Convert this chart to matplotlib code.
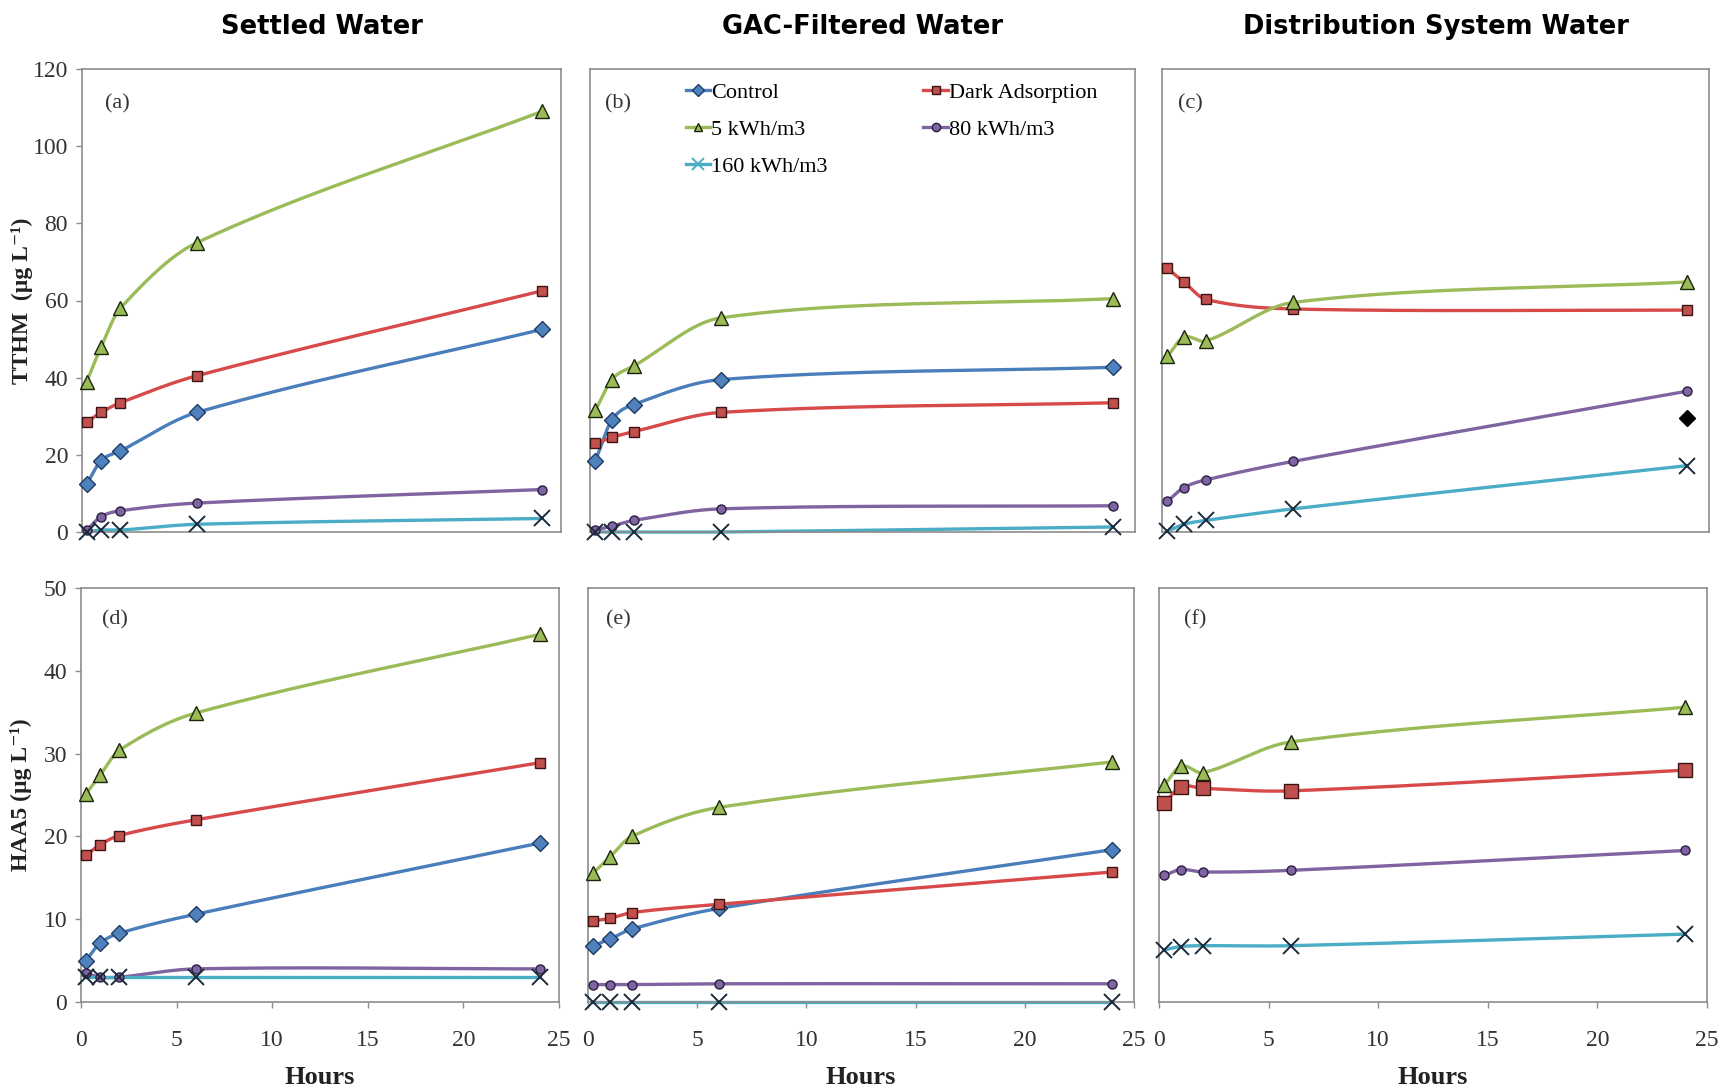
import numpy as np
import matplotlib.pyplot as plt

# sampling times (h)
hours = [0.25, 1, 2, 6, 24]
names = ['Control', 'Dark Adsorption', '5 kWh/m3', '80 kWh/m3', '160 kWh/m3']

# TTHM (ug/L), order: Control, Dark, 5, 80, 160
tthm_settled = [[12.5, 18.5, 21, 31, 52.5],
                [28.5, 31, 33.5, 40.5, 62.5],
                [39, 48, 58, 75, 109],
                [0.5, 4, 5.5, 7.5, 11],
                [0, 0.5, 0.5, 2, 3.5]]
tthm_gac = [[18.5, 29, 33, 39.5, 42.7],
            [23, 24.5, 26, 31, 33.5],
            [31.5, 39.5, 43, 55.5, 60.5],
            [0.5, 1.5, 3, 6, 6.8],
            [0, 0, 0, 0, 1.3]]
tthm_dist = [None,
             [68.3, 64.8, 60.3, 57.8, 57.5],
             [45.5, 50.5, 49.5, 59.5, 64.8],
             [8, 11.5, 13.5, 18.3, 36.5],
             [0.2, 2, 3, 6, 17.2]]
tthm_dist_control_24h = 29.5

# HAA5 (ug/L)
haa5_settled = [[5, 7.1, 8.3, 10.6, 19.2],
                [17.7, 19, 20.1, 22, 28.9],
                [25.1, 27.4, 30.4, 34.9, 44.4],
                [3.5, 3, 3, 4, 4],
                [3, 3, 3, 3, 3]]
haa5_gac = [[6.8, 7.6, 8.8, 11.3, 18.4],
            [9.8, 10.1, 10.8, 11.8, 15.7],
            [15.6, 17.5, 20, 23.5, 29],
            [2.1, 2.1, 2.1, 2.2, 2.2],
            [0, 0, 0, 0, 0]]
haa5_dist = [None,
             [24, 26, 25.8, 25.5, 28],
             [26.2, 28.5, 27.7, 31.4, 35.6],
             [15.3, 16, 15.7, 15.9, 18.3],
             [6.3, 6.7, 6.8, 6.8, 8.2]]

line_cols = ['#4A7EBB', '#D8494A', '#9BBB59', '#8064A2', '#4BACC6']
fill_cols = ['#4F81BD', '#C0504D', '#9BBB59', '#8064A2', '#4BACC6']
edge_cols = ['#1F3B63', '#3A1514', '#1A2408', '#2A1E40', '#1A2A3A']
markers = ['D', 's', '^', 'o', 'x']
msizes = [8, 7, 10, 6.5, 11]


def smooth(x, y, n=40):
    # smoothed line: hermite spline in x with centred slopes
    x = np.asarray(x, float)
    y = np.asarray(y, float)
    last = len(x) - 1
    m = np.zeros(len(x))
    m[0] = (y[1] - y[0]) / (x[1] - x[0])
    m[last] = (y[last] - y[last - 1]) / (x[last] - x[last - 1])
    for i in range(1, last):
        m[i] = (y[i + 1] - y[i - 1]) / (x[i + 1] - x[i - 1])
    xs, ys = [x[0]], [y[0]]
    t = np.linspace(0, 1, n)[1:]
    for i in range(last):
        h = x[i + 1] - x[i]
        h00 = 2 * t ** 3 - 3 * t ** 2 + 1
        h10 = t ** 3 - 2 * t ** 2 + t
        h01 = -2 * t ** 3 + 3 * t ** 2
        h11 = t ** 3 - t ** 2
        xs.extend(x[i] + t * h)
        ys.extend(h00 * y[i] + h10 * h * m[i] + h01 * y[i + 1] + h11 * h * m[i + 1])
    return xs, ys


def draw(ax, data, big_square=False):
    for k, vals in enumerate(data):
        if vals is None:
            continue
        sx, sy = smooth(hours, vals)
        ax.plot(sx, sy, color=line_cols[k], lw=2.4, clip_on=False, zorder=2)
        ms = msizes[k]
        if big_square and k == 1:
            ms = 10
        if markers[k] == 'x':
            ax.plot(hours, vals, ls='none', marker='x', ms=ms, mew=1.4,
                    color='#1A2A3A', clip_on=False, zorder=3)
        else:
            ax.plot(hours, vals, ls='none', marker=markers[k], ms=ms,
                    mfc=fill_cols[k], mec=edge_cols[k], mew=1.0,
                    clip_on=False, zorder=3)


serif = ['Liberation Serif', 'DejaVu Serif']
plt.rcParams['font.family'] = serif

fig = plt.figure(figsize=(17.19, 10.92), dpi=100)
W, H = 1719.0, 1092.0


def add_ax(l, r, t, b):
    return fig.add_axes([l / W, 1 - b / H, (r - l) / W, (b - t) / H])


ax_a = add_ax(82, 561, 69, 532)
ax_b = add_ax(590, 1135, 69, 532)
ax_c = add_ax(1162, 1709, 69, 532)
ax_d = add_ax(81, 559, 588, 1002)
ax_e = add_ax(588, 1134, 588, 1002)
ax_f = add_ax(1159, 1707, 588, 1002)

draw(ax_a, tthm_settled)
draw(ax_b, tthm_gac)
draw(ax_c, tthm_dist)
ax_c.plot([24], [tthm_dist_control_24h], ls='none', marker='D', ms=8,
          color='black', zorder=3)
draw(ax_d, haa5_settled)
draw(ax_e, haa5_gac)
draw(ax_f, haa5_dist, big_square=True)

letters = ['(a)', '(b)', '(c)', '(d)', '(e)', '(f)']
letter_x = [0.048, 0.028, 0.03, 0.044, 0.033, 0.046]
axes = [ax_a, ax_b, ax_c, ax_d, ax_e, ax_f]
for i, ax in enumerate(axes):
    ax.set_xlim(0, 25)
    ax.set_xticks(np.arange(0, 26, 5))
    for s in ax.spines.values():
        s.set_color('#8C8C8C')
        s.set_linewidth(1.2)
    ax.tick_params(colors='#8C8C8C', labelcolor='#333333', labelsize=17,
                   length=4, width=1.0, direction='out')
    ax.tick_params(axis='x', pad=16)
    ax.tick_params(axis='y', pad=6)
    ax.text(letter_x[i], 0.924, letters[i], transform=ax.transAxes,
            fontsize=16, color='#333333', va='center')
    if i < 3:
        ax.set_ylim(0, 120)
        ax.set_yticks(np.arange(0, 121, 20))
        ax.tick_params(axis='x', bottom=False, labelbottom=False)
    else:
        ax.set_ylim(0, 50)
        ax.set_yticks(np.arange(0, 51, 10))
    if i not in (0, 3):
        ax.tick_params(axis='y', left=False, labelleft=False)

ax_a.set_ylabel('TTHM  (µg L⁻¹)', fontsize=17, fontweight='bold',
                family=serif, color='#222222')
ax_a.yaxis.set_label_coords(-0.102, 0.5)
ax_d.set_ylabel('HAA5 (µg L⁻¹)', fontsize=17, fontweight='bold',
                family=serif, color='#222222')
ax_d.yaxis.set_label_coords(-0.102, 0.5)

for ax in (ax_d, ax_e, ax_f):
    ax.set_xlabel('Hours', fontsize=19, fontweight='bold', color='#222222')
    ax.xaxis.set_label_coords(0.5, -(1077 - 1002) / 414.0)
    ax.xaxis.label.set_va('center')

for ax, label in [(ax_a, 'Settled Water'), (ax_b, 'GAC-Filtered Water'),
                  (ax_c, 'Distribution System Water')]:
    ax.set_title(label, fontsize=18.5, fontweight='bold', family='DejaVu Sans',
                 pad=25)

# legend in panel (b)
hd = []
for k in range(5):
    if markers[k] == 'x':
        h, = ax_b.plot([], [], color=line_cols[k], lw=2.4, marker='x', ms=8,
                       mec=line_cols[k], mew=1.4)
    else:
        h, = ax_b.plot([], [], color=line_cols[k], lw=2.4, marker=markers[k],
                       ms=6, mfc=fill_cols[k], mec=edge_cols[k])
    hd.append(h)
order = [0, 2, 4, 1, 3]
ax_b.legend([hd[j] for j in order], [names[j] for j in order], ncol=2,
            loc='upper left', bbox_to_anchor=(0.147, 1.005), frameon=False,
            fontsize=16, handlelength=1.1, handletextpad=0.05,
            columnspacing=4.3, labelspacing=0.75, borderaxespad=0.3)

fig.savefig('out.png', dpi=100)
